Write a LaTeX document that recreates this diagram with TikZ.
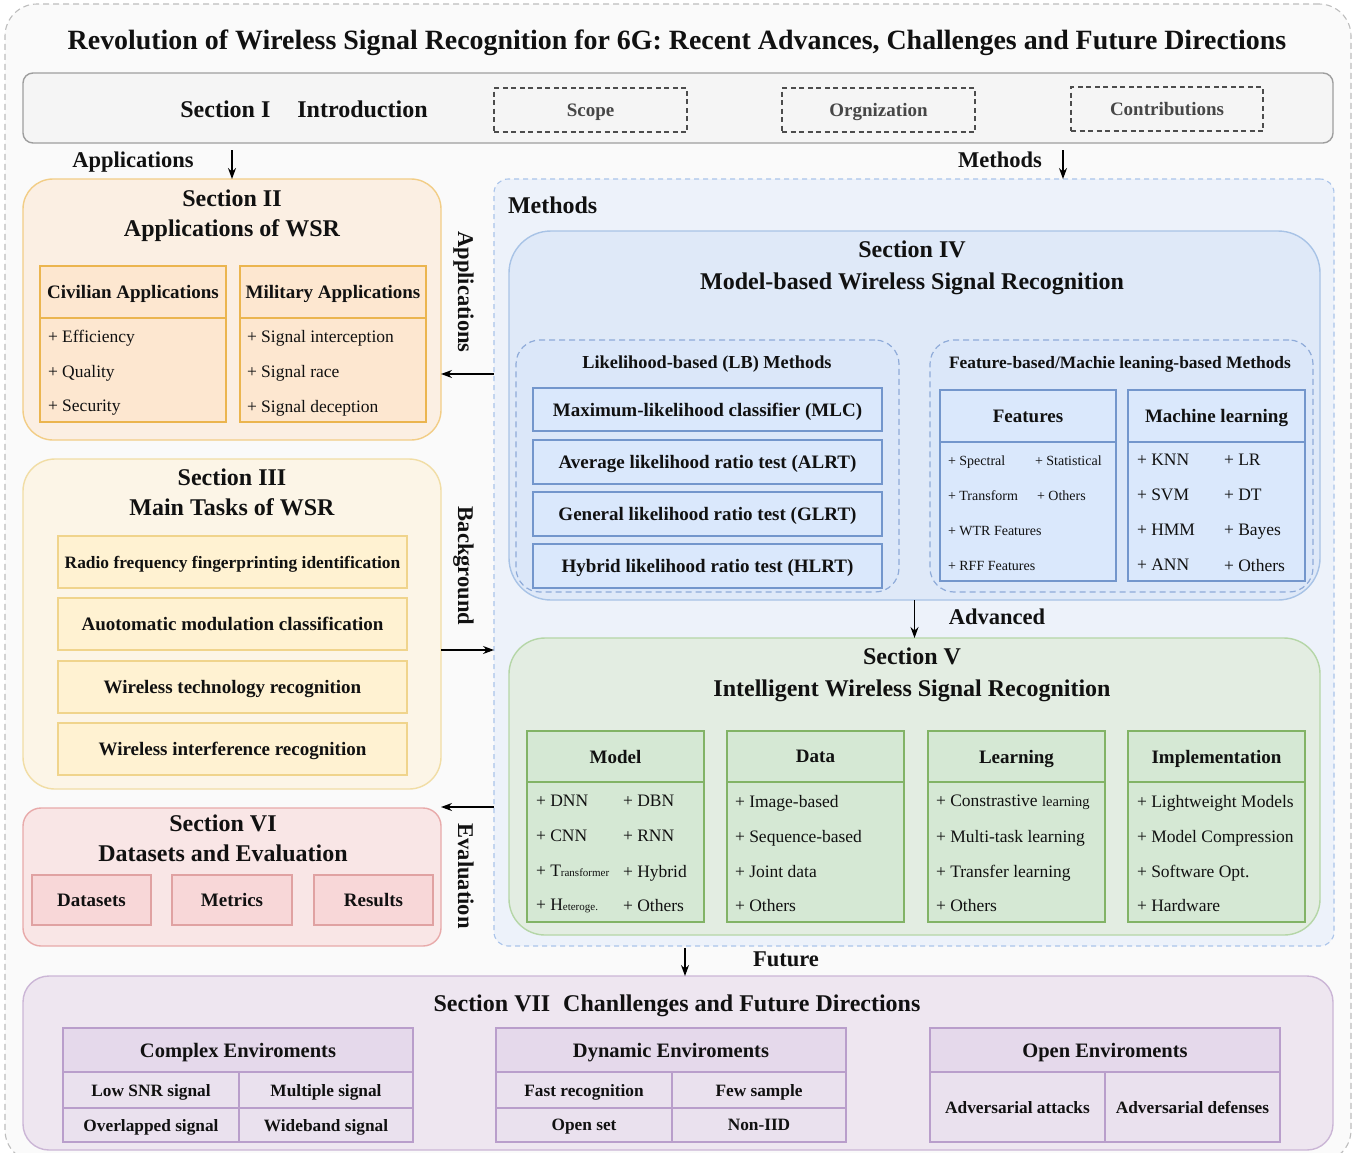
\documentclass[tikz,border=0pt]{standalone}
\usepackage{fontspec}
\setmainfont{Liberation Serif}
\usetikzlibrary{arrows.meta}
\definecolor{frameS}{HTML}{BDBDBD}
\definecolor{frameF}{HTML}{FAFAFA}
\definecolor{introF}{HTML}{F5F5F5}
\definecolor{introS}{HTML}{9E9E9E}
\definecolor{appF}{HTML}{FBEFE3}
\definecolor{appS}{HTML}{F2CD86}
\definecolor{apptF}{HTML}{FDE7D0}
\definecolor{apptS}{HTML}{EBB54F}
\definecolor{taskF}{HTML}{FCF5E7}
\definecolor{taskS}{HTML}{F1DDA5}
\definecolor{tasktF}{HTML}{FFF2D2}
\definecolor{tasktS}{HTML}{F0D48C}
\definecolor{dsF}{HTML}{F9E6E6}
\definecolor{dsS}{HTML}{E8AAAA}
\definecolor{dstF}{HTML}{F8D7D8}
\definecolor{dstS}{HTML}{E0A2A2}
\definecolor{methF}{HTML}{EDF2FA}
\definecolor{methS}{HTML}{AAC4EA}
\definecolor{mbF}{HTML}{DFE9F8}
\definecolor{mbS}{HTML}{A8C3E6}
\definecolor{subF}{HTML}{DBE7F9}
\definecolor{subS}{HTML}{8FABD9}
\definecolor{mbtF}{HTML}{DAE8FC}
\definecolor{mbtS}{HTML}{7396CC}
\definecolor{intF}{HTML}{E3EDE2}
\definecolor{intS}{HTML}{B5D6A7}
\definecolor{inttF}{HTML}{D5E8D4}
\definecolor{inttS}{HTML}{82B366}
\definecolor{futF}{HTML}{EEE6F0}
\definecolor{futS}{HTML}{CBB6D6}
\definecolor{futhF}{HTML}{E5D9EB}
\definecolor{futcF}{HTML}{EAE1EE}
\definecolor{futtS}{HTML}{B99ECB}
\definecolor{txt}{HTML}{111111}
\newcommand\fs[2]{\fontsize{#1}{#2}\selectfont}
\newcommand{\bx}[7]{\node[#6, anchor=north west, minimum width={(#4-#2)*1pt}, minimum height={(#5-#3)*1pt}] (#1) at (#2,#3) {#7};}
\tikzset{
  every node/.style={inner sep=0pt, outer sep=0pt, text=txt, text depth=0pt},
  ttl/.style={font=\bfseries\fs{27.9}{30}},
  sect/.style={font=\bfseries\fs{24}{30}, align=center},
  hdr/.style={font=\bfseries\fs{19}{22}},
  itm/.style={font=\fs{17.5}{20}, anchor=west},
  sitm/.style={font=\fs{14}{16}, anchor=west},
  lbl/.style={font=\bfseries\fs{22.5}{26}},
  arr/.style={draw=black, line width=1.3pt, -{Stealth[length=11pt,width=8pt]}},
  frame/.style={draw=frameS, fill=frameF, line width=1.1pt, dash pattern=on 6pt off 4pt, rounded corners=32pt},
  intro/.style={draw=introS, fill=introF, line width=1.4pt, rounded corners=10pt},
  introsub/.style={draw=black!70, fill=introF, line width=1.2pt, dash pattern=on 5pt off 3.5pt, font=\bfseries\fs{19}{22}, text=black!72},
  appbox/.style={draw=appS, fill=appF, line width=1.4pt, rounded corners=30pt},
  apptab/.style={draw=apptS, fill=apptF, line width=1.6pt},
  taskbox/.style={draw=taskS, fill=taskF, line width=1.4pt, rounded corners=32pt},
  tasktab/.style={draw=tasktS, fill=tasktF, line width=1.6pt},
  dsbox/.style={draw=dsS, fill=dsF, line width=1.4pt, rounded corners=18pt},
  dstab/.style={draw=dstS, fill=dstF, line width=1.6pt, font=\bfseries\fs{19}{22}},
  methbox/.style={draw=methS, fill=methF, line width=1.1pt, dash pattern=on 5pt off 4pt, rounded corners=14pt},
  mbbox/.style={draw=mbS, fill=mbF, line width=1.4pt, rounded corners=42pt},
  subbox/.style={draw=subS, fill=subF, line width=1.2pt, dash pattern=on 6pt off 4pt, rounded corners=24pt},
  mbtab/.style={draw=mbtS, fill=mbtF, line width=1.6pt},
  intbox/.style={draw=intS, fill=intF, line width=1.4pt, rounded corners=36pt},
  inttab/.style={draw=inttS, fill=inttF, line width=1.6pt},
  futbox/.style={draw=futS, fill=futF, line width=1.4pt, rounded corners=26pt},
  futhead/.style={draw=futtS, fill=futhF, line width=2.2pt, font=\bfseries\fs{20.5}{24}},
  futcell/.style={draw=futtS, fill=futcF, line width=1.1pt, font=\bfseries\fs{17.3}{20}},
}
\begin{document}
\begin{tikzpicture}[x=1pt, y=-1pt]
\useasboundingbox (0,0) rectangle (1359,1152);
% outer frame
\bx{frame}{5}{4}{1351}{1162}{frame}{}
\node[ttl] (title) at (677,40) {Revolution of Wireless Signal Recognition for 6G: Recent Advances, Challenges and Future Directions};

% Section I
\bx{sec1}{23}{73}{1333}{143}{intro}{}
\node[sect] (sec1t) at (304,109) {Section I\hspace{27pt}Introduction};
\bx{scope}{494}{88}{687}{132}{introsub}{Scope}
\bx{orgn}{782}{88}{975}{132}{introsub}{Orgnization}
\bx{contr}{1071}{87}{1263}{131}{introsub}{Contributions}

% Section II
\bx{sec2}{23}{179}{441}{440}{appbox}{}
\node[sect] (sec2t) at (232,213) {Section II\\Applications of WSR};
\bx{civh}{40}{266}{226}{318}{apptab,hdr}{Civilian Applications}
\bx{civb}{40}{318}{226}{422}{apptab}{}
\bx{milh}{240}{266}{426}{318}{apptab,hdr}{Military Applications}
\bx{milb}{240}{318}{426}{422}{apptab}{}
\node[itm] (c1) at (48,336) {+ Efficiency};
\node[itm] (c2) at (48,371) {+ Quality};
\node[itm] (c3) at (48,406) {+ Security};
\node[itm] (m1) at (247,336) {+ Signal interception};
\node[itm] (m2) at (247,371) {+ Signal race};
\node[itm] (m3) at (247,406) {+ Signal deception};

% Section III
\bx{sec3}{23}{459}{441}{789}{taskbox}{}
\node[sect] (sec3t) at (232,492) {Section III\\Main Tasks of WSR};
\bx{t1}{58}{536}{407}{588}{tasktab,font=\bfseries\fs{17.4}{20}}{Radio frequency fingerprinting identification}
\bx{t2}{58}{598}{407}{650}{tasktab,hdr}{Auotomatic modulation classification}
\bx{t3}{58}{661}{407}{713}{tasktab,hdr}{Wireless technology recognition}
\bx{t4}{58}{723}{407}{775}{tasktab,hdr}{Wireless interference recognition}

% Section VI
\bx{sec6}{23}{808}{441}{946}{dsbox}{}
\node[sect] (sec6t) at (223,838) {Section VI\\Datasets and Evaluation};
\bx{d1}{32}{875}{151}{925}{dstab}{Datasets}
\bx{d2}{172}{875}{292}{925}{dstab}{Metrics}
\bx{d3}{314}{875}{433}{925}{dstab}{Results}

% Methods region
\bx{meth}{494}{179}{1334}{946}{methbox}{}
\node[font=\bfseries\fs{24}{28}, anchor=west] (methl) at (508,205) {Methods};

% Section IV
\bx{sec4}{509}{231}{1320}{600}{mbbox}{}
\node[sect, font=\bfseries\fs{24}{32}] (sec4t) at (912,265) {Section IV\\Model-based Wireless Signal Recognition};
\bx{lb}{516}{340}{899}{592}{subbox}{}
\node[font=\bfseries\fs{18.3}{22}] (lbt) at (707,362) {Likelihood-based (LB) Methods};
\bx{mlc}{533}{388}{882}{431}{mbtab,hdr}{Maximum-likelihood classifier (MLC)}
\bx{alrt}{533}{440}{882}{484}{mbtab,hdr}{Average likelihood ratio test (ALRT)}
\bx{glrt}{533}{492}{882}{536}{mbtab,hdr}{General likelihood ratio test (GLRT)}
\bx{hlrt}{533}{544}{882}{588}{mbtab,hdr}{Hybrid likelihood ratio test (HLRT)}
\bx{fb}{930}{340}{1313}{592}{subbox}{}
\node[font=\bfseries\fs{17.4}{22}] (fbt) at (1120,362) {Feature-based/Machie leaning-based Methods};
\bx{feh}{940}{390}{1116}{442}{mbtab,hdr}{Features}
\bx{feb}{940}{442}{1116}{581}{mbtab}{}
\bx{mlh}{1128}{390}{1305}{442}{mbtab,hdr}{Machine learning}
\bx{mlb}{1128}{442}{1305}{581}{mbtab}{}
\node[sitm] (f1) at (948,461) {+ Spectral};
\node[sitm] (f2) at (1035,461) {+ Statistical};
\node[sitm] (f3) at (948,496) {+ Transform};
\node[sitm] (f4) at (1037,496) {+ Others};
\node[sitm] (f5) at (948,531) {+ WTR Features};
\node[sitm] (f6) at (948,566) {+ RFF Features};
\node[itm] (l1) at (1137,460) {+ KNN};
\node[itm] (l2) at (1224,460) {+ LR};
\node[itm] (l3) at (1137,495) {+ SVM};
\node[itm] (l4) at (1224,495) {+ DT};
\node[itm] (l5) at (1137,530) {+ HMM};
\node[itm] (l6) at (1224,530) {+ Bayes};
\node[itm] (l7) at (1137,565) {+ ANN};
\node[itm] (l8) at (1224,565) {+ Others};

% Section V
\bx{sec5}{509}{638}{1320}{935}{intbox}{}
\node[sect, font=\bfseries\fs{24}{32}] (sec5t) at (912,672) {Section V\\Intelligent Wireless Signal Recognition};
\bx{moh}{527}{731}{704}{782}{inttab,hdr}{Model}
\bx{mob}{527}{782}{704}{922}{inttab}{}
\bx{dah}{727}{731}{904}{782}{inttab,hdr}{Data}
\bx{dab}{727}{782}{904}{922}{inttab}{}
\bx{leh}{928}{731}{1105}{782}{inttab,hdr}{Learning}
\bx{leb}{928}{782}{1105}{922}{inttab}{}
\bx{imh}{1128}{731}{1305}{782}{inttab,hdr}{Implementation}
\bx{imb}{1128}{782}{1305}{922}{inttab}{}
\node[itm] (o1) at (536,801) {+ DNN};
\node[itm] (o2) at (623,801) {+ DBN};
\node[itm] (o3) at (536,836) {+ CNN};
\node[itm] (o4) at (623,836) {+ RNN};
\node[itm] (o5) at (536,871) {+ T{\fs{11}{12}ransformer}};
\node[itm] (o6) at (623,871) {+ Hybrid};
\node[itm] (o7) at (536,905) {+ H{\fs{11}{12}eteroge.}};
\node[itm] (o8) at (623,905) {+ Others};
\node[itm] (a1) at (735,801) {+ Image-based};
\node[itm] (a2) at (735,836) {+ Sequence-based};
\node[itm] (a3) at (735,871) {+ Joint data};
\node[itm] (a4) at (735,905) {+ Others};
\node[itm] (e1) at (936,801) {+ Constrastive {\fs{14.5}{16}learning}};
\node[itm] (e2) at (936,836) {+ Multi-task learning};
\node[itm] (e3) at (936,871) {+ Transfer learning};
\node[itm] (e4) at (936,905) {+ Others};
\node[itm] (i1) at (1137,801) {+ Lightweight Models};
\node[itm] (i2) at (1137,836) {+ Model Compression};
\node[itm] (i3) at (1137,871) {+ Software Opt.};
\node[itm] (i4) at (1137,905) {+ Hardware};

% Section VII
\bx{sec7}{23}{976}{1333}{1150}{futbox}{}
\node[sect] (sec7t) at (677,1003) {Section VII\hspace{13pt}Chanllenges and Future Directions};
\bx{ch}{63}{1028}{413}{1072}{futhead}{Complex Enviroments}
\bx{c11}{63}{1072}{239}{1108}{futcell}{Low SNR signal}
\bx{c12}{239}{1072}{413}{1108}{futcell}{Multiple signal}
\bx{c21}{63}{1108}{239}{1142}{futcell}{Overlapped signal}
\bx{c22}{239}{1108}{413}{1142}{futcell}{Wideband signal}
\bx{dh}{496}{1028}{846}{1072}{futhead}{Dynamic Enviroments}
\bx{d11}{496}{1072}{672}{1108}{futcell}{Fast recognition}
\bx{d12}{672}{1072}{846}{1108}{futcell}{Few sample}
\bx{d21}{496}{1108}{672}{1142}{futcell}{Open set}
\bx{d22}{672}{1108}{846}{1142}{futcell}{Non-IID}
\bx{oh}{930}{1028}{1280}{1072}{futhead}{Open Enviroments}
\bx{o11}{930}{1072}{1105}{1142}{futcell}{Adversarial attacks}
\bx{o12}{1105}{1072}{1280}{1142}{futcell}{Adversarial defenses}

% connectors
\coordinate (mx) at (1063,0);
\coordinate (fx) at (685,0);
\coordinate (ya) at (0,374);
\coordinate (yb) at (0,650);
\coordinate (yc) at (0,807);
\draw[arr, shorten <=7pt] (sec2.north |- sec1.south) -- (sec2.north);
\node[lbl] (lapp) at (133,160) {Applications};
\draw[arr, shorten <=7pt] (mx |- sec1.south) -- (mx |- meth.north);
\node[lbl] (lmeth) at (1000,160) {Methods};
\draw[arr] (meth.west |- ya) -- (sec2.east |- ya);
\node[lbl, rotate=-90] (lapp2) at (466,292) {Applications};
\draw[arr] (sec3.east |- yb) -- (meth.west |- yb);
\node[lbl, rotate=-90] (lbg) at (466,566) {Background};
\draw[arr] (meth.west |- yc) -- (sec6.east |- yc);
\node[lbl, rotate=-90] (lev) at (466,876) {Evaluation};
\draw[arr] (sec4.south) -- (sec5.north);
\node[lbl] (ladv) at (997,617) {Advanced};
\draw[arr, shorten <=2pt] (fx |- meth.south) -- (fx |- sec7.north);
\node[lbl] (lfut) at (786,959) {Future};
\end{tikzpicture}
\end{document}
